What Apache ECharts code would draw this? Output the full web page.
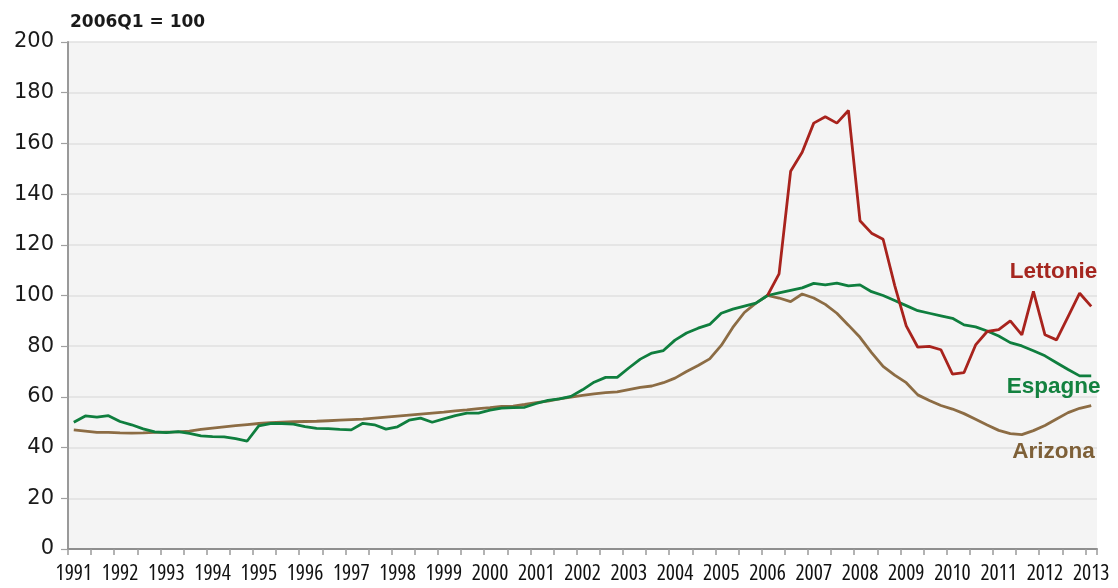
<!DOCTYPE html>
<html>
<head>
<meta charset="utf-8">
<script src="https://cdn.jsdelivr.net/npm/echarts@6/dist/echarts.min.js"></script>
<style>
html,body{margin:0;padding:0;background:#fff;}
#c{width:1118px;height:588px;}
</style>
</head>
<body>
<div id="c"></div>
<script>
// Quarterly categories 1991Q1 .. 2013Q1
var years = [];
for (var y = 1991; y <= 2013; y++) years.push(y);
var quarters = [];
years.forEach(function (yr) {
  for (var q = 1; q <= 4; q++) {
    if (yr === 2013 && q > 1) break;
    quarters.push(yr + 'Q' + q);
  }
});

var yTicks = [0, 20, 40, 60, 80, 100, 120, 140, 160, 180, 200];
var unitTitle = '2006Q1 = 100';

var espagne = [
  50, 52.5, 52, 52.6, 50.3, 49, 47.4, 46.2, 45.9, 46.3, 45.6, 44.6, 44.3, 44.2, 43.5, 42.6,
  48.6, 49.5, 49.5, 49.3, 48.3, 47.6, 47.5, 47.2, 47, 49.6, 49, 47.3, 48.2, 50.8, 51.6, 50,
  51.3, 52.6, 53.6, 53.6, 54.8, 55.6, 55.8, 55.9, 57.4, 58.6, 59.2, 60.2, 62.8, 65.8, 67.7, 67.7,
  71.4, 74.9, 77.3, 78.3, 82.4, 85.2, 87.1, 88.6, 93, 94.6, 95.8, 97, 100, 101, 102, 103,
  104.8, 104.2, 104.9, 103.8, 104.2, 101.5, 100, 98, 96, 94, 93, 92, 91, 88.4, 87.6, 86,
  84, 81.4, 80.1, 78.2, 76.2, 73.5, 70.8, 68.3, 68.3
];

var arizona = [
  47, 46.5, 46, 46, 45.8, 45.7, 45.8, 46, 46.1, 46.2, 46.5, 47.2, 47.7, 48.2, 48.7, 49.1,
  49.5, 49.8, 50, 50.2, 50.3, 50.4, 50.6, 50.8, 51, 51.2, 51.6, 52, 52.4, 52.8, 53.2, 53.6,
  54, 54.5, 54.9, 55.4, 55.8, 56.3, 56.4, 57, 57.7, 58.3, 59.2, 59.9, 60.6, 61.2, 61.7, 62,
  62.9, 63.8, 64.3, 65.6, 67.4, 70, 72.4, 75, 80.3, 87.4, 93.3, 97, 100, 99, 97.6, 100.6,
  99, 96.5, 93, 88.3, 83.5, 77.5, 72, 68.6, 65.6, 60.8, 58.6, 56.6, 55.2, 53.4, 51.2, 48.9,
  46.8, 45.5, 45.1, 46.7, 48.7, 51.3, 53.8, 55.5, 56.6
];

var lettonie = [
  null, null, null, null, null, null, null, null, null, null, null, null, null, null, null, null,
  null, null, null, null, null, null, null, null, null, null, null, null, null, null, null, null,
  null, null, null, null, null, null, null, null, null, null, null, null, null, null, null, null,
  null, null, null, null, null, null, null, null, null, null, null, null, 100, 108.5, 149, 156.5,
  168, 170.5, 168, 173, 129.5, 124.6, 122.2, 104, 88, 79.6, 79.9, 78.6, 69, 69.6, 80.5, 85.8,
  86.5, 90, 84.5, 101.6, 84.5, 82.5, 91.7, 100.9, 95.7
];

var colors = { Lettonie: '#A8231D', Espagne: '#0F7E3E', Arizona: '#8C6C44' };
var labelColors = { Lettonie: '#A5261F', Espagne: '#13813F', Arizona: '#7E6038' };
var labelAnchors = {
  Lettonie: [quarters[85], 109.4],
  Espagne: [quarters[85], 64],
  Arizona: [quarters[85], 38.3]
};

function mkSeries(name, data) {
  return {
    name: name,
    type: 'line',
    data: data,
    symbol: 'none',
    connectNulls: false,
    lineStyle: { color: colors[name], width: 2.8 },
    itemStyle: { color: colors[name] },
    animation: false,
    markPoint: {
      symbol: 'circle',
      symbolSize: 1,
      itemStyle: { color: 'rgba(0,0,0,0)' },
      animation: false,
      data: [{
        coord: labelAnchors[name],
        label: {
          show: true,
          position: 'inside',
          formatter: name,
          color: labelColors[name],
          fontFamily: "'Liberation Sans',Arial,sans-serif",
          fontWeight: 'bold',
          fontSize: 22.5,
          offset: [-3, 0]
        }
      }]
    }
  };
}

var chart = echarts.init(document.getElementById('c'), null, { renderer: 'canvas' });
chart.setOption({
  backgroundColor: '#ffffff',
  animation: false,
  title: {
    text: unitTitle,
    left: 65,
    top: 9,
    textStyle: { fontFamily: "'DejaVu Sans',sans-serif", fontWeight: 'bold', fontSize: 17, color: '#1a1a1a' }
  },
  grid: {
    left: 68, right: 21, top: 42, bottom: 39,
    show: true, backgroundColor: '#F4F4F4', borderWidth: 0,
    containLabel: false, outerBoundsMode: 'none'
  },
  xAxis: {
    type: 'category',
    data: quarters,
    boundaryGap: true,
    axisLine: { show: true, lineStyle: { color: '#8E8E8E', width: 2 } },
    axisTick: { show: true, interval: 1, length: 6, lineStyle: { color: '#9A9A9A', width: 1.5 } },
    axisLabel: {
      interval: 3,
      margin: 14,
      showMinLabel: true,
      showMaxLabel: true,
      hideOverlap: false,
      fontFamily: '"Open Sans"',
      fontWeight: 'condensed',
      fontSize: 21.5,
      color: '#111',
      formatter: function (v) { return v.slice(0, 4); }
    },
    splitLine: { show: false }
  },
  yAxis: {
    type: 'value',
    min: yTicks[0],
    max: yTicks[yTicks.length - 1],
    interval: 20,
    axisLine: { show: true, lineStyle: { color: '#999', width: 2 } },
    axisTick: { show: true, length: 7, lineStyle: { color: '#A0A0A0', width: 1.2 } },
    axisLabel: {
      margin: 14,
      fontFamily: "'DejaVu Sans',sans-serif",
      fontSize: 21,
      color: '#1a1a1a',
      padding: [0, 0, 9, 0]
    },
    splitLine: { show: true, lineStyle: { color: '#E1E1E1', width: 1.5 } }
  },
  series: [
    mkSeries('Arizona', arizona),
    mkSeries('Espagne', espagne),
    mkSeries('Lettonie', lettonie)
  ]
});
</script>
</body>
</html>
